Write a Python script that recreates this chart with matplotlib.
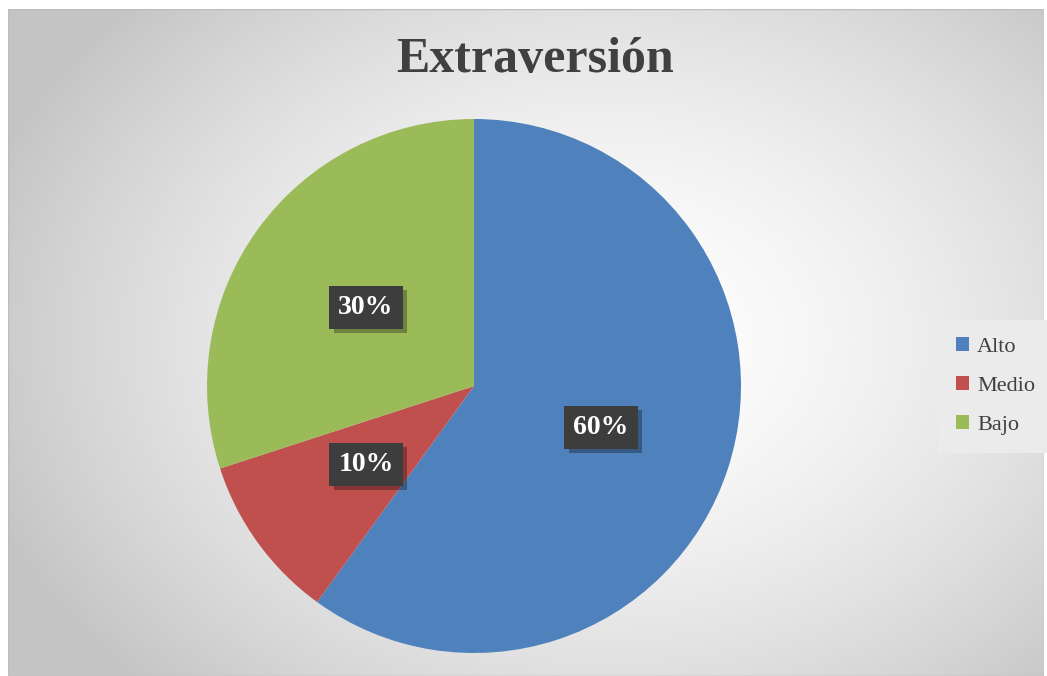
import numpy as np
import matplotlib
matplotlib.use("Agg")
import matplotlib.pyplot as plt
from matplotlib.patches import Rectangle
import matplotlib.patheffects as pe

categories = ["Alto", "Medio", "Bajo"]
values = [60, 10, 30]
colors = ["#4F81BD", "#C0504D", "#9BBB59"]
title = "Extraversión"

W, H = 1047, 676
fig = plt.figure(figsize=(W / 100, H / 100), dpi=100)
fig.patch.set_facecolor("white")

# background: radial gradient inside the chart area
bg = fig.add_axes([8 / W, 0, (1044 - 8) / W, (H - 9) / H])
bg.set_axis_off()
yy, xx = np.mgrid[0:H - 9, 0:1044 - 8]
cx, cy = 600, 330
d = np.sqrt(((xx - cx) / 640.0) ** 2 + ((yy - cy) / 480.0) ** 2)
g = np.clip(1.0 - 0.22 * d ** 1.6, 0.77, 1.0)
bg.imshow(np.dstack([g, g, g]), aspect="auto", interpolation="bilinear")
bg.add_patch(Rectangle((0, 0), 1, 1, transform=bg.transAxes, fill=False,
                       edgecolor="#bdbdbd", lw=1))

fig.text(535 / W, 1 - 60 / H, title, ha="center", va="center",
         fontsize=36, fontweight="bold", color="#404040", family="Liberation Serif")

# pie
cx_p, cy_p, r = 474, 386, 267
ax = fig.add_axes([(cx_p - r) / W, (H - cy_p - r) / H, 2 * r / W, 2 * r / H])
wedges, texts, autotexts = ax.pie(values, colors=colors, startangle=90,
                                  counterclock=False, autopct="%1.0f%%",
                                  pctdistance=0.5, radius=1.0,
                                  wedgeprops=dict(linewidth=0))
ax.set_xlim(-1, 1)
ax.set_ylim(-1, 1)
ax.set_aspect("equal")
for t in autotexts:
    t.set_color("white")
    t.set_fontsize(20)
    t.set_fontweight("bold")
    t.set_family("Liberation Serif")
    t.set_bbox(dict(boxstyle="square,pad=0.32", facecolor="#3d3d3d",
                    edgecolor="none",
                    path_effects=[pe.SimplePatchShadow(offset=(3, -3), alpha=0.3,
                                                       shadow_rgbFace="black"),
                                  pe.Normal()]))

# legend
lg = fig.legend(wedges, categories, loc="center left",
                bbox_to_anchor=(938 / W, 1 - 386 / H), frameon=True,
                fancybox=False, prop=dict(family="Liberation Serif", size=16),
                handlelength=0.6, handleheight=0.6, handletextpad=0.35,
                labelspacing=0.85, borderpad=0.8, borderaxespad=0)
lg.get_frame().set_facecolor("#ebebeb")
lg.get_frame().set_edgecolor("none")
lg.get_frame().set_alpha(1)
for t in lg.get_texts():
    t.set_color("#404040")

fig.savefig("out.png", dpi=100)
